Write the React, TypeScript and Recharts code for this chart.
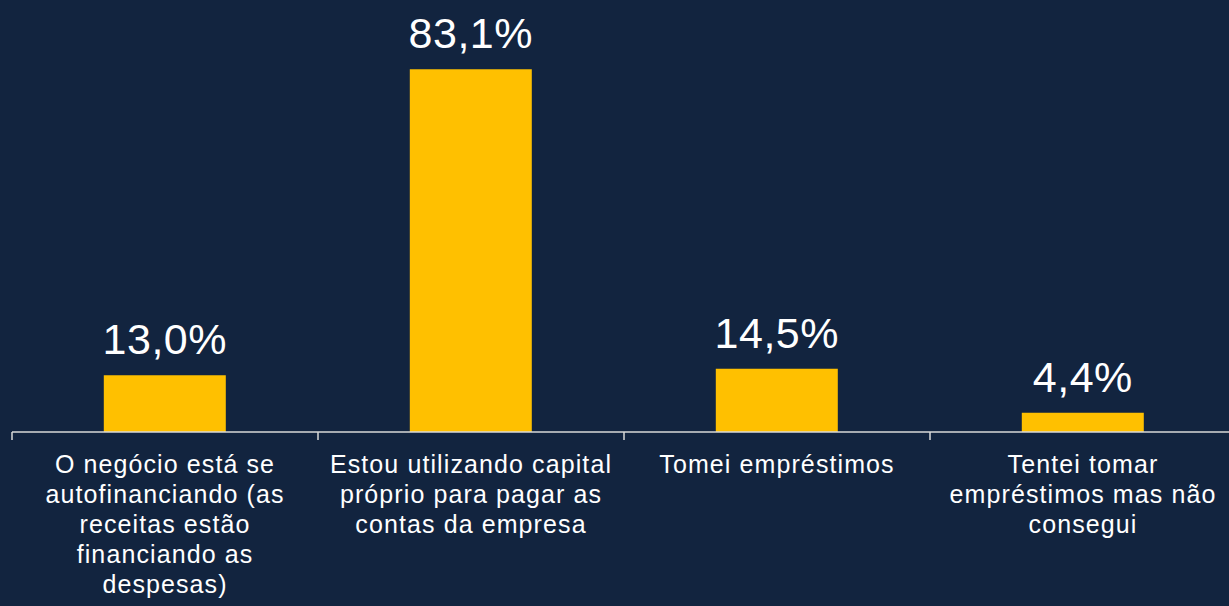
import { BarChart, Bar, XAxis, YAxis, LabelList } from 'recharts';

// Category labels (line breaks as in the original slide)
const categories = [
    'O negócio está se\nautofinanciando (as\nreceitas estão\nfinanciando as\ndespesas)',
    'Estou utilizando capital\npróprio para pagar as\ncontas da empresa',
    'Tomei empréstimos',
    'Tentei tomar\nempréstimos mas não\nconsegui',
];
const percentages = [13.0, 83.1, 14.5, 4.4];

const chartData = categories.map((name, i) => ({ name, value: percentages[i] }));

const FONT = "Arial, 'Liberation Sans', sans-serif";
const BG = '#12243F';
const BAR = '#FFC000';

const formatPercent = (v: number) => `${v.toFixed(1).replace('.', ',')}%`;

const CategoryTick = (props: any) => {
    const { x, y, payload } = props;
    const half = payload?.offset ?? 153;
    const lines: string[] = String(payload.value).split('\n');
    return (
        <g>
            <line x1={x - half} x2={x - half} y1={y} y2={y + 8} stroke="#D9D9D9" strokeWidth={1.5} />
            <text
                x={x}
                y={y + 41}
                textAnchor="middle"
                fill="#FFFFFF"
                fontSize={25}
                letterSpacing={1.1}
                fontFamily={FONT}
            >
                {lines.map((line, i) => (
                    <tspan key={i} x={x} dy={i === 0 ? 0 : 30}>{line}</tspan>
                ))}
            </text>
        </g>
    );
};

const ValueLabel = (props: any) => {
    const { x, y, width, value } = props;
    return (
        <text
            x={x + width / 2}
            y={y - 21}
            textAnchor="middle"
            fill="#FFFFFF"
            fontSize={43}
            letterSpacing={0.5}
            fontFamily={FONT}
        >
            {formatPercent(Number(value))}
        </text>
    );
};

export default function App() {
    return (
        <div style={{ position: 'absolute', left: 0, top: 0, width: 1229, height: 606, overflow: 'hidden', background: BG }}>
            <BarChart
                width={1236}
                height={606}
                data={chartData}
                margin={{ top: 39, right: 0, left: 12, bottom: 0 }}
                barCategoryGap="30%"
            >
                <XAxis
                    dataKey="name"
                    height={174}
                    interval={0}
                    tickLine={false}
                    tickSize={0}
                    tickMargin={0}
                    axisLine={{ stroke: '#D9D9D9', strokeWidth: 1.5 }}
                    tick={<CategoryTick />}
                />
                <YAxis hide domain={[0, 90]} />
                <Bar dataKey="value" fill={BAR} isAnimationActive={false}>
                    <LabelList dataKey="value" content={<ValueLabel />} />
                </Bar>
            </BarChart>
        </div>
    );
}
